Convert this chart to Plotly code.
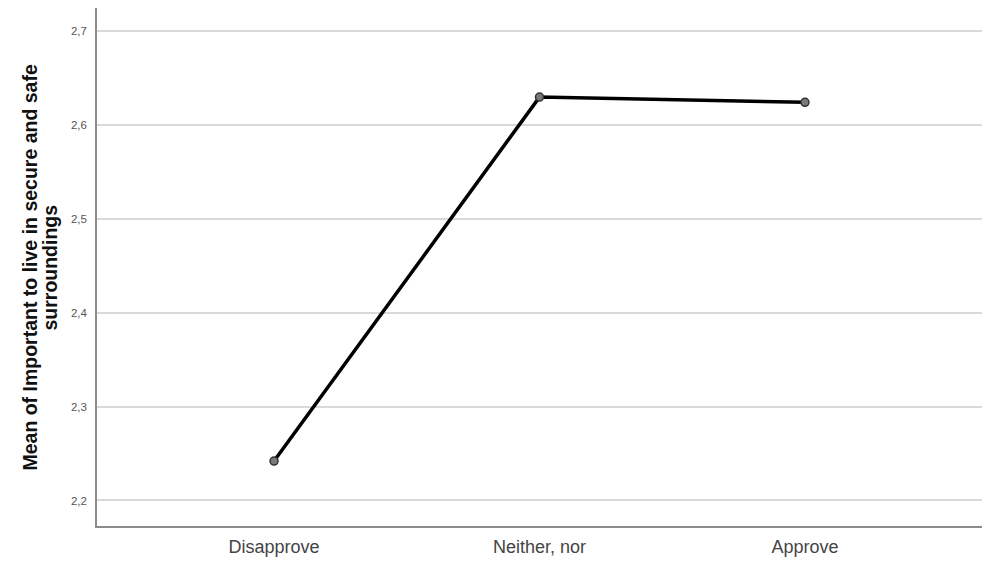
import plotly.graph_objects as go

categories = ["Disapprove", "Neither, nor", "Approve"]
means = [2.242, 2.630, 2.6245]
y_ticks = [2.2, 2.3, 2.4, 2.5, 2.6, 2.7]
y_tick_labels = ["2,2", "2,3", "2,4", "2,5", "2,6", "2,7"]
y_title_lines = ["Mean of Important to live in secure and safe", "surroundings"]

fig = go.Figure()
fig.add_trace(go.Scatter(
    x=categories, y=means, mode="lines+markers",
    line=dict(color="#000000", width=3.5),
    marker=dict(size=8, color="#7a7a7a", line=dict(color="#333333", width=1.5)),
    showlegend=False,
))

fig.update_layout(
    width=983, height=555,
    margin=dict(l=89, r=9, t=0, b=37),
    paper_bgcolor="white", plot_bgcolor="white",
    font=dict(family="Liberation Sans, Arial, sans-serif", color="#444444"),
)
fig.update_xaxes(
    type="category", range=[-0.667, 2.667],
    showgrid=False, showline=True, linecolor="#8c8c8c", linewidth=1.5,
    ticks="", tickfont=dict(size=18, color="#444444"),
    ticklabelstandoff=4, zeroline=False,
)
fig.update_yaxes(
    range=[2.1728, 2.725],
    tickvals=y_ticks, ticktext=y_tick_labels,
    showgrid=True, gridcolor="#d9d9d9", gridwidth=1.5,
    showline=True, linecolor="#8c8c8c", linewidth=1.5,
    ticks="", tickfont=dict(size=11.5, color="#555555"),
    ticklabelstandoff=6, zeroline=False,
)
for xpos, line in zip([-0.0768, -0.0542], y_title_lines):
    fig.add_annotation(
        text=f"<b>{line}</b>", xref="paper", yref="paper",
        x=xpos, y=0.499, xanchor="center", yanchor="middle",
        textangle=-90, showarrow=False,
        font=dict(size=19.5, color="#111111", family="Liberation Sans, Arial, sans-serif"),
    )

fig.write_html("out.html")
